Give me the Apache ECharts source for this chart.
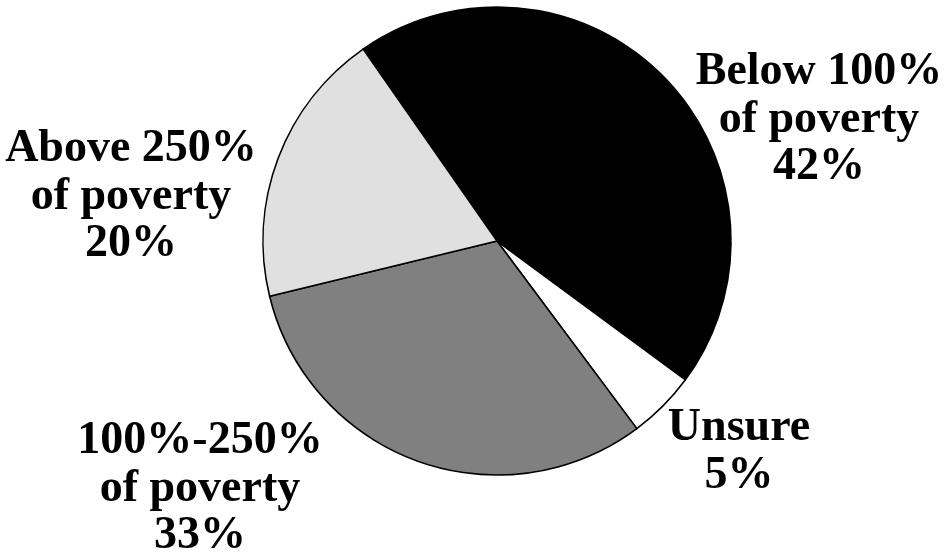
<!DOCTYPE html>
<html>
<head>
<meta charset="utf-8">
<script src="https://cdn.jsdelivr.net/npm/echarts@6/dist/echarts.min.js"></script>
<style>
html,body{margin:0;padding:0;background:#fff;}
#chart{width:951px;height:556px;}
</style>
</head>
<body>
<div id="chart"></div>
<script>
// Slice categories (clockwise from the top-left boundary)
var categories = ['Below 100%\nof poverty', 'Unsure', '100%-250%\nof poverty', 'Above 250%\nof poverty'];
// Slice sizes as drawn in the picture (share of the circle, %)
var drawnValues = [44.8, 4.7, 31.4, 19.1];
// Percentages printed on the labels
var printedPercents = ['42%', '5%', '33%', '20%'];
var sliceColors = ['#000000', '#ffffff', '#808080', '#e0e0e0'];

// label anchor positions (layout only)
var labelPos = [[819, 120], [739, 452], [200, 489], [131, 197]];

var chart = echarts.init(document.getElementById('chart'), null, {renderer: 'canvas'});
var data = categories.map(function (c, i) {
  return { name: c, value: drawnValues[i], itemStyle: { color: sliceColors[i] } };
});
chart.setOption({
  animation: false,
  backgroundColor: '#ffffff',
  series: [{
    type: 'pie',
    center: [497, 241],
    radius: 234,
    startAngle: 124.9,
    clockwise: true,
    avoidLabelOverlap: false,
    emphasis: { disabled: true },
    silent: true,
    itemStyle: { borderColor: '#000', borderWidth: 1.6 },
    data: data,
    label: {
      show: true,
      position: 'outside',
      formatter: function (p) { return p.name + '\n' + printedPercents[p.dataIndex]; },
      fontFamily: 'Liberation Serif',
      fontWeight: 'bold',
      fontSize: 46,
      lineHeight: 47.5,
      color: '#000',
      align: 'center'
    },
    labelLine: { show: false },
    labelLayout: function (params) {
      var p = labelPos[params.dataIndex];
      return { x: p[0], y: p[1], align: 'center', verticalAlign: 'middle' };
    }
  }]
});
</script>
</body>
</html>
